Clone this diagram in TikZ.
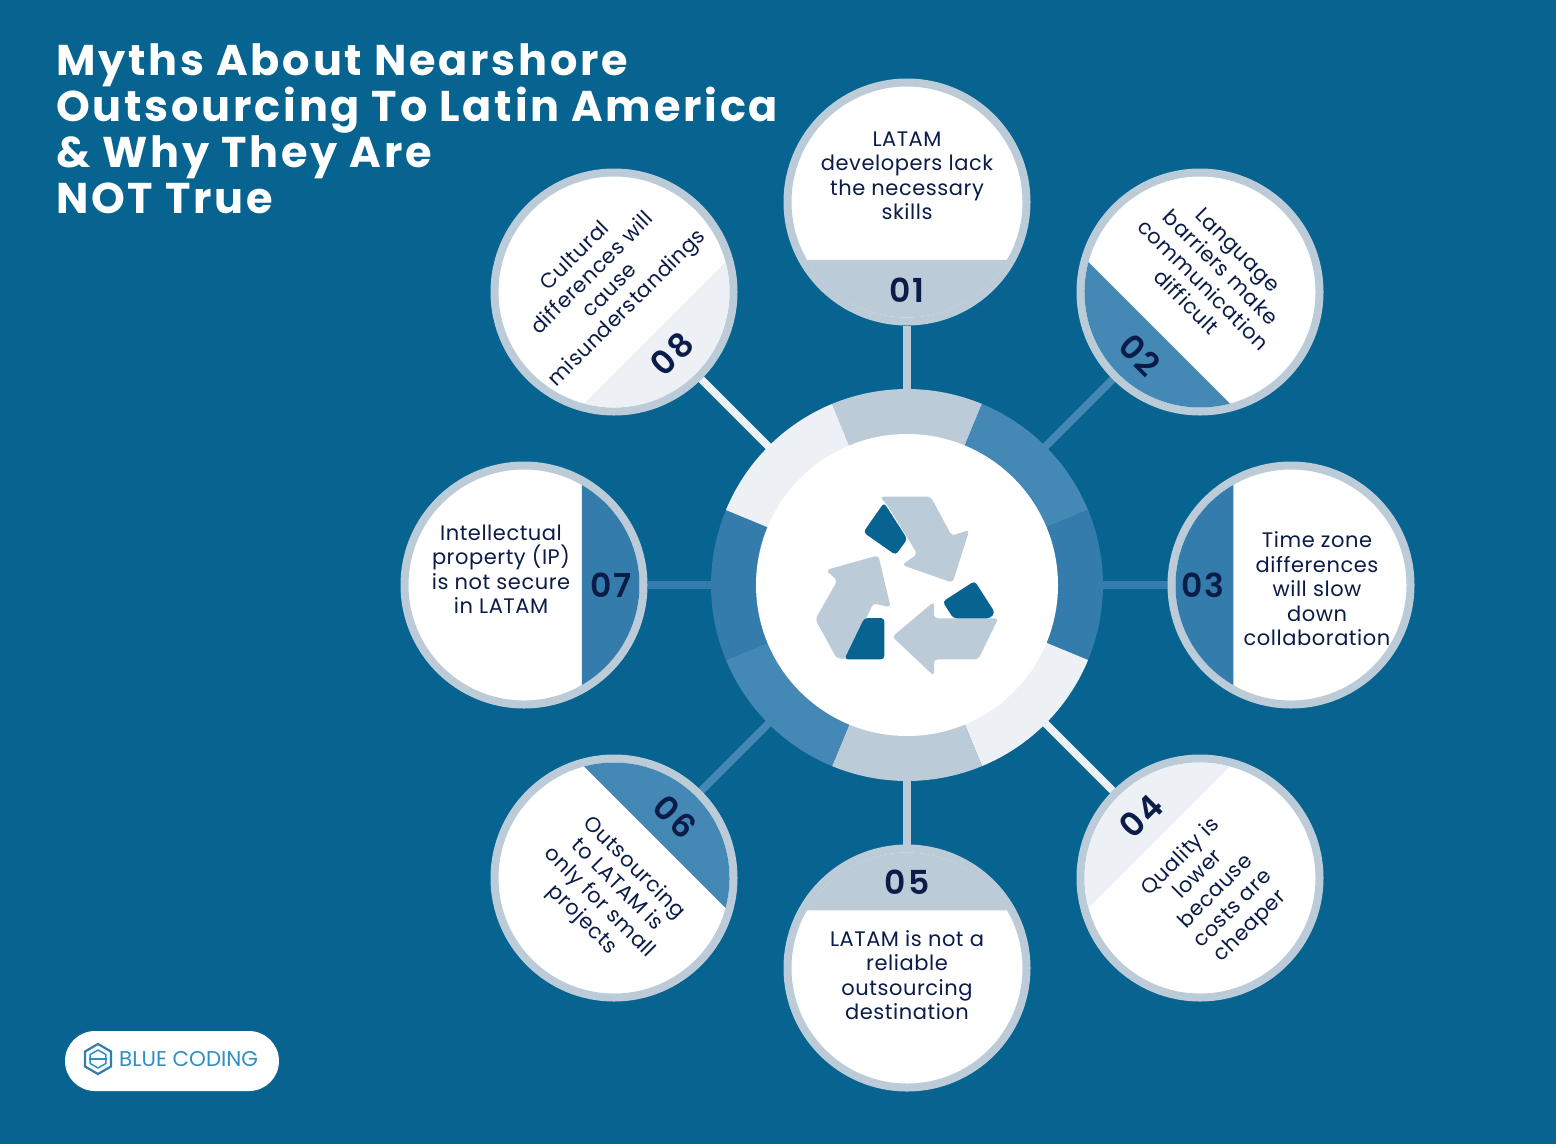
\documentclass[tikz,border=0pt]{standalone}
\usepackage{fontspec}
\setmainfont{Poppins}
\newfontfamily\titlefont[LetterSpace=6.5]{Poppins}
\newfontfamily\bodyfont[LetterSpace=2.6]{Poppins}
\newfontfamily\numfont[LetterSpace=6]{Poppins SemiBold}
\newfontfamily\logofont{Poppins}
\usetikzlibrary{backgrounds,shapes.geometric}
\definecolor{bluebg}{HTML}{07638F}
\definecolor{navy}{HTML}{0B1C48}
\definecolor{greyblue}{HTML}{BCCBD8}
\definecolor{midblue}{HTML}{4488B6}
\definecolor{deepblue}{HTML}{337CAB}
\definecolor{paleblue}{HTML}{EDF0F5}
\definecolor{logoblue}{HTML}{2E8FC4}
\tikzset{
	myth/.style={circle,draw=greyblue,fill=white,line width=8,minimum size=239,inner sep=0},
	hubnode/.style={circle,fill=white,minimum size=302,inner sep=0},
	spoke/.style={line width=7.5},
	mythtext/.style={align=center,inner sep=0,text=navy,font=\bodyfont\fontsize{21}{24.5}\selectfont},
	mythnum/.style={inner sep=0,text=navy,font=\numfont\fontsize{33}{33}\selectfont},
	arrowpart/.style={fill=greyblue,rounded corners=3.5},
	darkpart/.style={fill=bluebg,rounded corners=3.5}
}
% ring piece #1 centred on angle #2
\newcommand{\ringpiece}[2]{\fill[#1] (O) -- ([shift={(#2-22.5:196)}]O) arc[start angle=#2-22.5,delta angle=45,radius=196] -- cycle;}
% band of circle #1 towards angle #2
\newcommand{\band}[3]{\fill[#3] ([shift={(#2-60:115.5)}]#1.center) arc[start angle=#2-60,delta angle=120,radius=115.5] -- cycle;}
\begin{document}
\begin{tikzpicture}[x=1pt,y=1pt]
	\useasboundingbox (0,0) rectangle (1556,-1144);
	\coordinate (O) at (907,-585);

	% ring
	\ringpiece{greyblue}{90}
	\ringpiece{midblue}{45}
	\ringpiece{deepblue}{0}
	\ringpiece{paleblue}{-45}
	\ringpiece{greyblue}{-90}
	\ringpiece{midblue}{-135}
	\ringpiece{deepblue}{180}
	\ringpiece{paleblue}{135}
	\node[hubnode] (hub) at (O) {};

	% circles
	\node[myth] (c01) at (907,-202) {};
	\node[myth] (c02) at (1200,-292) {};
	\node[myth] (c03) at (1291,-585) {};
	\node[myth] (c04) at (1200,-878) {};
	\node[myth] (c05) at (907,-968) {};
	\node[myth] (c06) at (614,-878) {};
	\node[myth] (c07) at (524,-585) {};
	\node[myth] (c08) at (614,-292) {};

	\begin{pgfonlayer}{background}
		\fill[bluebg] (0,0) rectangle (1556,-1144);
		\draw[spoke,greyblue] (hub) -- (c01);
		\draw[spoke,midblue] (hub) -- (c02);
		\draw[spoke,deepblue] (hub) -- (c03);
		\draw[spoke,paleblue] (hub) -- (c04);
		\draw[spoke,greyblue] (hub) -- (c05);
		\draw[spoke,midblue] (hub) -- (c06);
		\draw[spoke,deepblue] (hub) -- (c07);
		\draw[spoke,paleblue] (hub) -- (c08);
	\end{pgfonlayer}

	\band{c01}{-90}{greyblue}
	\band{c02}{-135}{midblue}
	\band{c03}{180}{deepblue}
	\band{c04}{135}{paleblue}
	\band{c05}{90}{greyblue}
	\band{c06}{45}{midblue}
	\band{c07}{0}{deepblue}
	\band{c08}{-45}{paleblue}

	% numbers
	\node[mythnum] (n01) at (907,-290) {01};
	\node[mythnum,rotate=-45] (n02) at (1140,-355) {02};
	\node[mythnum] (n03) at (1203,-585) {03};
	\node[mythnum,rotate=45] (n04) at (1141,-816) {04};
	\node[mythnum] (n05) at (907,-882) {05};
	\node[mythnum,rotate=-45] (n06) at (675,-817) {06};
	\node[mythnum] (n07) at (611,-585) {07};
	\node[mythnum,rotate=45] (n08) at (672,-354) {08};

	% myths
	\node[mythtext] (t01) at (907,-176) {LATAM\\developers lack\\the necessary\\skills};
	\node[mythtext,rotate=-45] (t02) at (1212,-276) {Language\\barriers make\\communication\\difficult};
	\node[mythtext] (t03) at (1317,-589) {Time zone\\differences\\will slow\\down\\collaboration};
	\node[mythtext,rotate=45] (t04) at (1216,-892) {Quality is\\lower\\because\\costs are\\cheaper};
	\node[mythtext] (t05) at (907,-975) {LATAM is not a\\reliable\\outsourcing\\destination};
	\node[mythtext,rotate=-45] (t06) at (608,-894) {Outsourcing\\to LATAM is\\only for small\\projects};
	\node[mythtext] (t07) at (501,-569) {Intellectual\\property (IP)\\is not secure\\in LATAM};
	\node[mythtext,rotate=45] (t08) at (602,-283) {Cultural\\differences will\\cause\\misunderstandings};

	% recycling icon
	\begin{scope}[shift={(680,-370)},scale=1/3]
		\fill[arrowpart] (600,-380) -- (752,-380) -- (815,-497) -- (868,-480) -- (818,-638) -- (666,-585) -- (712,-552) -- (625,-410) -- cycle;
		\fill[darkpart] (612,-398) -- (550,-487) -- (647,-555) -- (682,-507) -- cycle;
		\fill[arrowpart] (955,-745) -- (895,-868) -- (762,-868) -- (762,-918) -- (637,-800) -- (762,-695) -- (762,-745) -- cycle;
		\fill[darkpart] (788,-695) -- (884,-633) -- (945,-728) -- (930,-745) -- (820,-745) -- cycle;
		\fill[arrowpart] (595,-556) -- (632,-712) -- (580,-700) -- (500,-867) -- (470,-865) -- (406,-748) -- (472,-632) -- (438,-600) -- cycle;
		\fill[darkpart] (553,-744) -- (613,-744) -- (613,-868) -- (493,-868) -- cycle;
	\end{scope}

	\node[anchor=north west,inner sep=0,align=left,text=white,font=\titlefont\bfseries\fontsize{43}{46}\selectfont] (title) at (56,-43) {Myths About Nearshore\\Outsourcing To Latin America\\\& Why They Are\\NOT True};

	% logo
	\node[rounded corners=30,fill=white,minimum width=214,minimum height=60,inner sep=0] (pill) at (172,-1061) {};
	\node[regular polygon,regular polygon sides=6,shape border rotate=30,draw=deepblue,line width=2.2,minimum size=30,inner sep=0] (hex) at (98,-1059) {};
	\node[regular polygon,regular polygon sides=6,shape border rotate=30,draw=logoblue,line width=1.5,minimum size=18,inner sep=0] (hexin) at (98,-1059) {};
	\draw[logoblue,line width=1.5] (hexin.west) -- (hexin.east);
	\node[anchor=west,inner sep=0,text=logoblue,font=\logofont\fontsize{21.4}{21.4}\selectfont] (logo) at (119,-1059) {BLUE CODING};
\end{tikzpicture}
\end{document}
